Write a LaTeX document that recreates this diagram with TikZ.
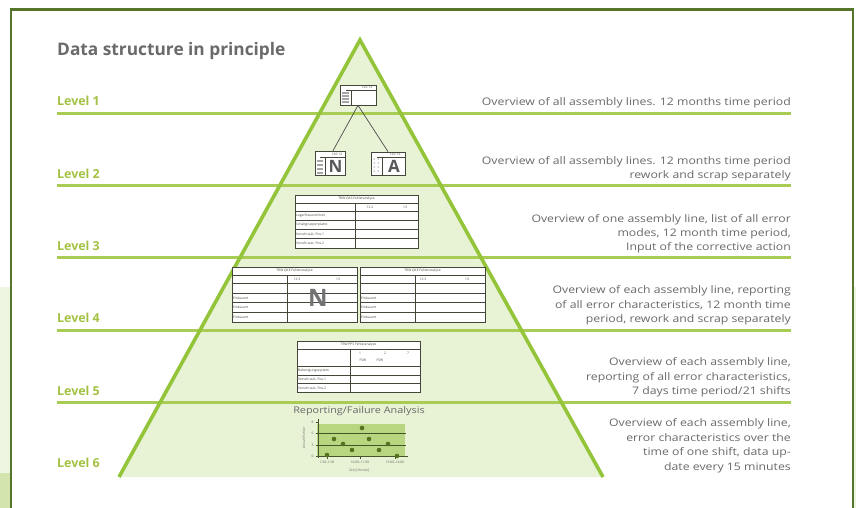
\documentclass[tikz,border=0pt]{standalone}
\usepackage{fontspec}
\setmainfont{Open Sans}
\newfontfamily\widefont[FakeStretch=1.18]{Open Sans}
\usetikzlibrary{calc}
\definecolor{framegreen}{HTML}{55752A}
\definecolor{stripgreen}{HTML}{EEF5E1}
\definecolor{stripdark}{HTML}{D3E5AE}
\definecolor{pyrgreen}{HTML}{93C43A}
\definecolor{linegreen}{HTML}{A9CC55}
\definecolor{pyrfill}{HTML}{E8F2D5}
\definecolor{lvltext}{HTML}{A3C243}
\definecolor{graytext}{HTML}{6A6A6A}
\definecolor{tabline}{HTML}{45463A}
\definecolor{chartfill}{HTML}{B8D680}
\definecolor{chartline}{HTML}{45542A}
\definecolor{dotgreen}{HTML}{55701F}
\begin{document}
\begin{tikzpicture}[x=1pt,y=-1pt,
  levelline/.style={linegreen, line width=3pt},
  pyredge/.style={pyrgreen, line width=3.6pt, line join=miter},
  lvl/.style={anchor=base west, inner sep=0, text=lvltext, font=\bfseries\fontsize{12.4}{14}\selectfont},
  desc/.style={anchor=base east, inner sep=0, text=graytext, font=\widefont\fontsize{10.4}{12}\selectfont},
  tab/.style={draw=tabline, line width=0.7pt, fill=white},
  tline/.style={tabline, line width=0.6pt},
  tiny/.style={inner sep=0, text=tabline, font=\fontsize{3.3}{3.6}\selectfont},
  tinyl/.style={tiny, anchor=west},
  bar/.style={fill=gray!70},
  bigletter/.style={inner sep=0, text=black!65, font=\bfseries\fontsize{17}{18}\selectfont},
  dot/.style={circle, fill=dotgreen, inner sep=0, minimum size=4.6pt},
  conn/.style={black!70, line width=0.7pt}
]
\useasboundingbox (0,0) rectangle (856,508);
\fill[white] (0,0) rectangle (856,508);
% side strips and frame
\fill[stripgreen] (0,287) rectangle (9.6,473);
\fill[stripdark] (0,473) rectangle (9.6,508);
\fill[stripgreen] (854.3,287) rectangle (856,508);
\draw[framegreen, line width=2.6pt] (11,509) -- (11,9.5) -- (852.8,9.5) -- (852.8,509);

% pyramid
\coordinate (apex) at (360,40);
\coordinate (bl) at (119,477);
\coordinate (br) at (603,477);
\fill[pyrfill] (apex) -- (bl) -- (br) -- cycle;
\foreach \y in {113.3,185.7,257.7,330,402.7}
  \draw[levelline] (57,\y) -- (791,\y);
\draw[pyredge] (bl) -- (apex) -- (br);

% title
\node[anchor=base west, inner sep=0, text=graytext, font=\bfseries\fontsize{17.3}{19}\selectfont] (title) at (57,56) {Data structure in principle};

% level labels
\node[lvl] (lv1) at (57,106) {Level 1};
\node[lvl] (lv2) at (57,178.5) {Level 2};
\node[lvl] (lv3) at (57,250.5) {Level 3};
\node[lvl] (lv4) at (57,322.5) {Level 4};
\node[lvl] (lv5) at (57,395) {Level 5};
\node[lvl] (lv6) at (57,467.5) {Level 6};

% descriptions
\node[desc] (d1a) at (791,106) {Overview of all assembly lines. 12 months time period};
\node[desc] (d2a) at (791,164.5) {Overview of all assembly lines. 12 months time period};
\node[desc] (d2b) at (791,178.5) {rework and scrap separately};
\node[desc] (d3a) at (791,222) {Overview of one assembly line, list of all error};
\node[desc] (d3b) at (791,236) {modes, 12 month time period,};
\node[desc] (d3c) at (791,250.5) {Input of the corrective action};
\node[desc] (d4a) at (791,293.5) {Overview of each assembly line, reporting};
\node[desc] (d4b) at (791,308) {of all error characteristics, 12 month time};
\node[desc] (d4c) at (791,322.5) {period, rework and scrap separately};
\node[desc] (d5a) at (791,365.5) {Overview of each assembly line,};
\node[desc] (d5b) at (791,380) {reporting of all error characteristics,};
\node[desc] (d5c) at (791,394.5) {7 days time period/21 shifts};
\node[desc] (d6a) at (791,426) {Overview of each assembly line,};
\node[desc] (d6b) at (791,441) {error characteristics over the};
\node[desc] (d6c) at (791,455.5) {time of one shift, data up-};
\node[desc] (d6d) at (791,470) {date every 15 minutes};

% ---- Level 1 / Level 2 icons
\node[tab, minimum width=36pt, minimum height=20pt, inner sep=0] (box1) at (358,95) {};
\draw[tline] (346,90) -- (376,90);
\draw[tline] (351,90) -- (351,105);
\foreach \yy in {92,95,98,101} \fill[bar] (342,\yy) rectangle (349,\yy+1.8);
\node[tiny] (box1t) at (367,87.3) {120 13};

\node[tab, minimum width=30pt, minimum height=24pt, inner sep=0] (boxN) at (330,163) {};
\draw[tline] (320,157) -- (345,157);
\draw[tline] (325,157) -- (325,175);
\foreach \yy in {159.5,163.5,167.5,171.5} \fill[bar] (317,\yy) rectangle (323,\yy+2);
\node[tiny] (boxNt) at (337,154) {120 12};
\node[bigletter] (letN) at (335.5,166.5) {N};

\node[tab, minimum width=34pt, minimum height=23pt, inner sep=0] (boxA) at (388,163.5) {};
\draw[tline] (377,157) -- (405,157);
\draw[tline] (382,157) -- (382,175);
\foreach \yy in {160,164,168,172} {\node[tiny, text=gray] at (374.5,\yy) {x}; \node[tiny, text=gray] at (378.5,\yy) {x};}
\node[tiny] (boxAt) at (395,154.5) {120 13};
\node[bigletter] (letA) at (394,166.5) {A};

\draw[conn] (box1.south) -- ($(boxN.north)+(3,0)$);
\draw[conn] (box1.south) -- (boxA.north);

% ---- Level 3 table
\draw[tab] (295,195) rectangle (418,248);
\foreach \yy in {203,211,220,229,238.5} \draw[tline] (295,\yy) -- (418,\yy);
\draw[tline] (355,203) -- (355,248);
\node[tiny] (t3) at (356.5,199) {TRW OAS Fehleranalyse};
\node[tiny] (t3h1) at (370,207) {12.2};
\node[tiny] (t3h2) at (405,207) {13};
\node[tinyl] (t3r1) at (296,215.5) {Lage/Steuereinheit};
\node[tinyl] (t3r2) at (296,224.5) {Schaltgruppenplatte};
\node[tinyl] (t3r3) at (296,233.8) {Verschraub. Pos.1};
\node[tinyl] (t3r4) at (296,243.3) {Verschraub. Pos.2};

% ---- Level 4 tables
\draw[tab] (232,267) rectangle (357,322);
\foreach \yy in {275,283,293,302.5,312} \draw[tline] (232,\yy) -- (357,\yy);
\draw[tline] (287,275) -- (287,322);
\node[tiny] (t4l) at (294.5,271) {TRW QKE Fehleranalyse};
\node[tiny] (t4lh1) at (297,279) {12.3};
\node[tiny] (t4lh2) at (338,279) {13};
\node[tinyl] (t4lr1) at (233,297.8) {Einbauort};
\node[tinyl] (t4lr2) at (233,307.3) {Einbauort};
\node[tinyl] (t4lr3) at (233,317) {Einbauort};
\node[inner sep=0, text=black!55, font=\bfseries\fontsize{24}{24}\selectfont] (bigN) at (318,298) {N};

\draw[tab] (360,267) rectangle (485,322);
\foreach \yy in {275,283,293,302.5,312} \draw[tline] (360,\yy) -- (485,\yy);
\draw[tline] (415,275) -- (415,322);
\node[tiny] (t4r) at (422.5,271) {TRW QKE Fehleranalyse};
\node[tiny] (t4rh1) at (423,279) {12.3};
\node[tiny] (t4rh2) at (467,279) {13};
\node[tinyl] (t4rr1) at (361,297.8) {Einbauort};
\node[tinyl] (t4rr2) at (361,307.3) {Einbauort};
\node[tinyl] (t4rr3) at (361,317) {Einbauort};

% ---- Level 5 table
\draw[tab] (297,341) rectangle (420,392);
\foreach \yy in {349,366,375,383.5} \draw[tline] (297,\yy) -- (420,\yy);
\draw[tline] (350,349) -- (350,392);
\node[tiny] (t5) at (358.5,345) {TRW PPS Fehleranalyse};
\node[tiny] (t5h1) at (360,353) {1};
\node[tiny] (t5h2) at (385,353) {2};
\node[tiny] (t5h3) at (408,353) {7};
\node[tiny] (t5s1) at (363,360) {FSW};
\node[tiny] (t5s2) at (380,360) {FSW};
\node[tinyl] (t5r1) at (298,370.5) {Befestigungssystem};
\node[tinyl] (t5r2) at (298,379.3) {Verschraub. Pos.1};
\node[tinyl] (t5r3) at (298,388) {Verschraub. Pos.2};

% ---- Level 6 chart
\node[inner sep=0, text=graytext, font=\widefont\fontsize{9.2}{10}\selectfont] (ctitle) at (359,411) {Reporting/Failure Analysis};
\fill[chartfill] (317,424) rectangle (405,457);
\draw[chartline, line width=1pt] (317,433) -- (406,433);
\draw[chartline, line width=1pt] (317,445) -- (406,445);
\draw[chartline, line width=1pt] (317,456.5) -- (408,456.5);
\draw[chartline, line width=0.6pt] (318,419) -- (318,458);
\foreach \yy/\lab in {422/8,433/6,445/3,456.5/0} {
  \draw[chartline, line width=0.5pt] (315.5,\yy) -- (318,\yy);
  \node[tiny, text=black!60] at (312.5,\yy) {\lab};
}
\foreach \xx in {327,360,395} \draw[chartline, line width=0.5pt] (\xx,456.5) -- (\xx,459);
\node[tiny, text=black!60, rotate=90] (cyl) at (304,438) {Anzahl Fehler};
\node[tiny, text=black!60] (cx1) at (327,462) {1:30--1:50};
\node[tiny, text=black!60] (cx2) at (360,462) {10:00--11:00};
\node[tiny, text=black!60] (cx3) at (395,462) {13:00--14:00};
\node[tiny, text=black!60] (cxl) at (359,471) {Zeit [Uhrzeit]};
\foreach \px/\py in {327/455,334/439,343/444,352/450,362/428,369/439,379/450,388/444,397/456}
  \node[dot] at (\px,\py) {};
\end{tikzpicture}
\end{document}
